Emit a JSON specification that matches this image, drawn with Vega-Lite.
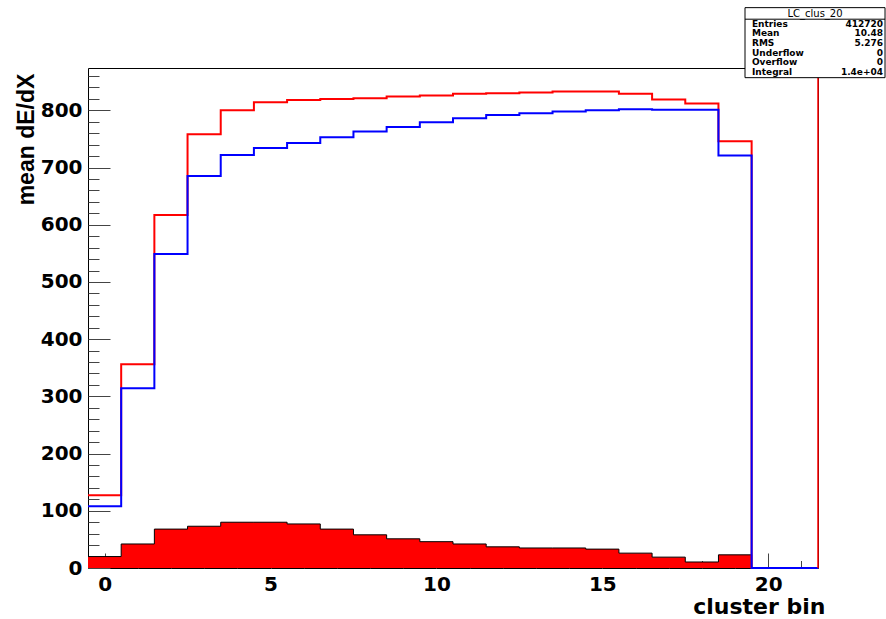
{
  "$schema": "https://vega.github.io/schema/vega-lite/v6.json",
  "autosize": "none",
  "width": 730,
  "height": 500,
  "padding": {"left": 88, "top": 68, "right": 68, "bottom": 51},
  "background": "white",
  "view": {"stroke": "black", "strokeWidth": 1},
  "config": {"axis": {"grid": false, "domain": false}},
  "datasets": {
    "hist": [
      {"lo": -0.5, "red": 127, "blue": 108, "filled": 20},
      {"lo": 0.5, "red": 356, "blue": 314, "filled": 42},
      {"lo": 1.5, "red": 617, "blue": 549, "filled": 68},
      {"lo": 2.5, "red": 758, "blue": 685, "filled": 73},
      {"lo": 3.5, "red": 800, "blue": 722, "filled": 80},
      {"lo": 4.5, "red": 814, "blue": 734, "filled": 80},
      {"lo": 5.5, "red": 818, "blue": 743, "filled": 77},
      {"lo": 6.5, "red": 820, "blue": 753, "filled": 68},
      {"lo": 7.5, "red": 821, "blue": 763, "filled": 58},
      {"lo": 8.5, "red": 824, "blue": 771, "filled": 51},
      {"lo": 9.5, "red": 826, "blue": 779, "filled": 46},
      {"lo": 10.5, "red": 829, "blue": 786, "filled": 42},
      {"lo": 11.5, "red": 830, "blue": 792, "filled": 37},
      {"lo": 12.5, "red": 831, "blue": 795, "filled": 35},
      {"lo": 13.5, "red": 833, "blue": 798, "filled": 35},
      {"lo": 14.5, "red": 833, "blue": 800, "filled": 33},
      {"lo": 15.5, "red": 829, "blue": 802, "filled": 26},
      {"lo": 16.5, "red": 819, "blue": 801, "filled": 19},
      {"lo": 17.5, "red": 812, "blue": 801, "filled": 10.5},
      {"lo": 18.5, "red": 746, "blue": 721, "filled": 23},
      {"lo": 19.5, "red": 0, "blue": 0, "filled": 0},
      {"lo": 20.5, "red": 0, "blue": 0, "filled": 0},
      {"lo": 21.5, "red": 0, "blue": 0, "filled": 0}
    ],
    "stats": [
      {"stat": "Entries", "val": "412720"},
      {"stat": "Mean", "val": "10.48"},
      {"stat": "RMS", "val": "5.276"},
      {"stat": "Underflow", "val": "0"},
      {"stat": "Overflow", "val": "0"},
      {"stat": "Integral", "val": "1.4e+04"}
    ],
    "box": [{"name": "LC_clus_20"}]
  },
  "resolve": {"scale": {"y": "independent"}, "axis": {"x": "independent", "y": "independent"}},
  "layer": [
    {
      "data": {"name": "hist"},
      "mark": {"type": "area", "interpolate": "step-after", "color": "#ff0000"},
      "encoding": {
        "x": {"field": "lo", "type": "quantitative", "scale": {"domain": [-0.5, 21.5], "nice": false, "zero": false},
          "axis": {"orient": "bottom", "values": [0, 5, 10, 15, 20], "ticks": false, "labelPadding": 6,
            "labelFont": "DejaVu Sans", "labelFontWeight": "bold", "labelFontSize": 20, "labelColor": "black",
            "title": "cluster bin", "titleFont": "DejaVu Sans", "titleFontWeight": "bold", "titleFontSize": 22, "titleColor": "black",
            "titleAlign": "right", "titleAnchor": null, "titleX": 737, "titleY": 45, "titleBaseline": "alphabetic"}},
        "y": {"field": "filled", "type": "quantitative", "scale": {"domain": [0, 874], "nice": false, "zero": false},
          "axis": {"orient": "left", "values": [0, 100, 200, 300, 400, 500, 600, 700, 800], "ticks": false, "labelPadding": 6,
            "labelFont": "DejaVu Sans", "labelFontWeight": "bold", "labelFontSize": 20, "labelColor": "black",
            "title": "mean dE/dX", "titleFont": "Liberation Sans", "titleFontWeight": "bold", "titleFontSize": 23, "titleColor": "black",
            "titleAngle": -90, "titleAlign": "center", "titleAnchor": null, "titleX": -55, "titleY": 71, "titleBaseline": "alphabetic"}}
      }
    },
    {
      "data": {"name": "hist"},
      "mark": {"type": "line", "interpolate": "step-after", "color": "black", "strokeWidth": 1},
      "encoding": {
        "x": {"field": "lo", "type": "quantitative", "scale": {"domain": [-0.5, 21.5], "nice": false, "zero": false},
          "axis": {"orient": "bottom", "values": [0, 5, 10, 15, 20], "labels": false, "tickSize": -15, "tickColor": "#444", "title": null}},
        "y": {"field": "filled", "type": "quantitative", "scale": {"domain": [0, 874], "nice": false, "zero": false},
          "axis": {"orient": "left", "values": [0, 100, 200, 300, 400, 500, 600, 700, 800], "labels": false, "tickSize": -22, "tickColor": "#444", "title": null}}
      }
    },
    {
      "data": {"name": "hist"},
      "mark": {"type": "line", "interpolate": "step-after", "color": "#ff0000", "strokeWidth": 2},
      "encoding": {
        "x": {"field": "lo", "type": "quantitative", "scale": {"domain": [-0.5, 21.5], "nice": false, "zero": false},
          "axis": {"orient": "bottom", "values": [0, 1, 2, 3, 4, 5, 6, 7, 8, 9, 10, 11, 12, 13, 14, 15, 16, 17, 18, 19, 20, 21], "labels": false, "tickSize": -7.5, "tickColor": "#444", "title": null}},
        "y": {"field": "red", "type": "quantitative", "scale": {"domain": [0, 874], "nice": false, "zero": false},
          "axis": {"orient": "left", "values": [20, 40, 60, 80, 120, 140, 160, 180, 220, 240, 260, 280, 320, 340, 360, 380, 420, 440, 460, 480, 520, 540, 560, 580, 620, 640, 660, 680, 720, 740, 760, 780, 820, 840, 860], "labels": false, "tickSize": -11, "tickColor": "#444", "title": null}}
      }
    },
    {
      "data": {"name": "hist"},
      "mark": {"type": "line", "interpolate": "step-after", "color": "#0000ff", "strokeWidth": 2},
      "encoding": {
        "x": {"field": "lo", "type": "quantitative", "scale": {"domain": [-0.5, 21.5], "nice": false, "zero": false}, "axis": null},
        "y": {"field": "blue", "type": "quantitative", "scale": {"domain": [0, 874], "nice": false, "zero": false}, "axis": null}
      }
    },
    {
      "data": {"name": "box"},
      "mark": {"type": "rule", "color": "#ff0000", "strokeWidth": 1.5},
      "encoding": {
        "x": {"datum": 21.5, "type": "quantitative", "scale": {"domain": [-0.5, 21.5], "nice": false, "zero": false}, "axis": null}
      }
    },
    {
      "data": {"name": "box"},
      "mark": {"type": "rect", "fill": "white", "stroke": "black", "strokeWidth": 1},
      "encoding": {
        "x": {"datum": 19.3, "type": "quantitative", "scale": {"domain": [-0.5, 21.5], "nice": false, "zero": false}, "axis": null},
        "x2": {"datum": 23.52},
        "y": {"datum": 979.5, "type": "quantitative", "scale": {"domain": [0, 874], "nice": false, "zero": false}, "axis": null},
        "y2": {"datum": 857.1}
      }
    },
    {
      "data": {"name": "box"},
      "mark": {"type": "rule", "color": "black", "strokeWidth": 1},
      "encoding": {
        "x": {"datum": 19.3, "type": "quantitative", "scale": {"domain": [-0.5, 21.5], "nice": false, "zero": false}, "axis": null},
        "x2": {"datum": 23.52},
        "y": {"datum": 959.3, "type": "quantitative", "scale": {"domain": [0, 874], "nice": false, "zero": false}, "axis": null}
      }
    },
    {
      "data": {"name": "box"},
      "mark": {"type": "text", "font": "DejaVu Sans", "fontSize": 10, "align": "center", "baseline": "middle", "color": "black"},
      "encoding": {
        "x": {"datum": 21.41, "type": "quantitative", "scale": {"domain": [-0.5, 21.5], "nice": false, "zero": false}, "axis": null},
        "y": {"datum": 969, "type": "quantitative", "scale": {"domain": [0, 874], "nice": false, "zero": false}, "axis": null},
        "text": {"field": "name"}
      }
    },
    {
      "data": {"name": "stats"},
      "mark": {"type": "text", "font": "DejaVu Sans", "fontWeight": "bold", "fontSize": 9, "align": "left", "baseline": "middle", "color": "black"},
      "encoding": {
        "x": {"datum": 19.51, "type": "quantitative", "scale": {"domain": [-0.5, 21.5], "nice": false, "zero": false}, "axis": null},
        "y": {"field": "stat", "type": "nominal", "sort": null, "scale": {"type": "point", "padding": 0, "range": [-44.5, 4]}, "axis": null},
        "text": {"field": "stat"}
      }
    },
    {
      "data": {"name": "stats"},
      "mark": {"type": "text", "font": "DejaVu Sans", "fontWeight": "bold", "fontSize": 9, "align": "right", "baseline": "middle", "color": "black"},
      "encoding": {
        "x": {"datum": 23.46, "type": "quantitative", "scale": {"domain": [-0.5, 21.5], "nice": false, "zero": false}, "axis": null},
        "y": {"field": "stat", "type": "nominal", "sort": null, "scale": {"type": "point", "padding": 0, "range": [-44.5, 4]}, "axis": null},
        "text": {"field": "val"}
      }
    }
  ]
}
